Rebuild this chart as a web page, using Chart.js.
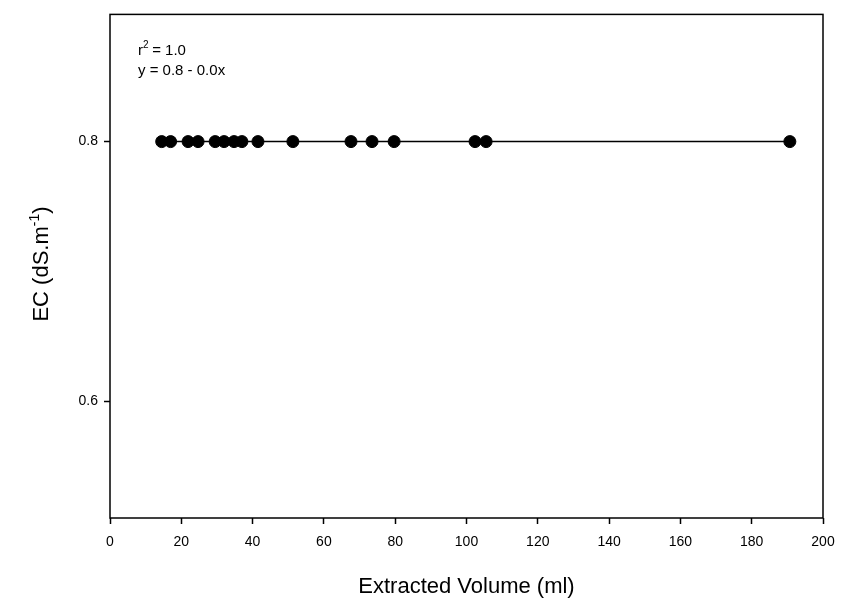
<!DOCTYPE html>
<html>
<head>
<meta charset="utf-8">
<script src="https://cdn.jsdelivr.net/npm/chart.js@4/dist/chart.umd.min.js"></script>
<style>
  body { margin: 0; background: #fff; }
  #wrap { width: 845px; height: 604px; }
</style>
</head>
<body>
<div id="wrap"><canvas id="chart" width="845" height="604"></canvas></div>
<script>
const volumes = [14.5, 17, 21.9, 24.7, 29.5, 32, 34.8, 37, 41.5, 51.3, 67.6, 73.5, 79.7, 102.4, 105.5, 190.7];
const ecValues = [0.8, 0.8, 0.8, 0.8, 0.8, 0.8, 0.8, 0.8, 0.8, 0.8, 0.8, 0.8, 0.8, 0.8, 0.8, 0.8];
const fitLine = [{ x: 14.5, y: 0.8 }, { x: 190.7, y: 0.8 }];
const xTicks = [0, 20, 40, 60, 80, 100, 120, 140, 160, 180, 200];
const yTicks = [0.6, 0.8];

const font = 'Arial, "Liberation Sans", sans-serif';

const frameAndText = {
    id: 'frameAndText',
    afterDraw(chart) {
        const { ctx, chartArea: a } = chart;
        ctx.save();
        ctx.strokeStyle = '#000';
        ctx.lineWidth = 1.5;
        ctx.strokeRect(a.left, a.top, a.right - a.left, a.bottom - a.top);
        ctx.fillStyle = '#000';
        ctx.textBaseline = 'alphabetic';
        ctx.font = `15px ${font}`;
        ctx.fillText('r', 138, 55);
        ctx.font = `10px ${font}`;
        ctx.fillText('2', 143, 48);
        ctx.font = `15px ${font}`;
        ctx.fillText(' = 1.0', 148, 55);
        ctx.fillText('y = 0.8 - 0.0x', 138, 75);
        // y title with superscript
        ctx.translate(48, 264);
        ctx.rotate(-Math.PI / 2);
        ctx.font = `22px ${font}`;
        const main = 'EC (dS.m';
        const wMain = ctx.measureText(main).width;
        ctx.font = `14px ${font}`;
        const wSup = ctx.measureText('-1').width;
        ctx.font = `22px ${font}`;
        const wEnd = ctx.measureText(')').width;
        const total = wMain + wSup + wEnd;
        ctx.textAlign = 'left';
        const x0 = -total / 2;
        ctx.fillText(main, x0, 0);
        ctx.font = `14px ${font}`;
        ctx.fillText('-1', x0 + wMain, -9);
        ctx.font = `22px ${font}`;
        ctx.fillText(')', x0 + wMain + wSup, 0);
        ctx.restore();
    }
};

const tickGrid = { display: true, drawOnChartArea: false, drawTicks: true, tickLength: 6, tickColor: '#000', tickWidth: 1.5 };

new Chart(document.getElementById('chart'), {
    type: 'scatter',
    data: {
        datasets: [
            {
                label: 'fit',
                type: 'line',
                data: fitLine,
                borderColor: '#000',
                borderWidth: 1.5,
                pointRadius: 0
            },
            {
                label: 'EC',
                data: volumes.map((v, i) => ({ x: v, y: ecValues[i] })),
                backgroundColor: '#000',
                borderColor: '#000',
                pointRadius: 6,
                pointHoverRadius: 6
            }
        ]
    },
    plugins: [frameAndText],
    options: {
        responsive: false,
        animation: false,
        layout: { padding: { top: 2, right: 22, left: 0, bottom: 0 } },
        plugins: { legend: { display: false }, tooltip: { enabled: false } },
        scales: {
            x: {
                type: 'linear',
                min: 0,
                max: 200,
                afterBuildTicks: (s) => { s.ticks = xTicks.map((v) => ({ value: v })); },
                afterFit: (s) => { s.height = 86; },
                grid: tickGrid,
                border: { display: false },
                ticks: { color: '#000', font: { family: font, size: 14 }, padding: 10, maxRotation: 0 },
                title: { display: true, text: 'Extracted Volume (ml)', color: '#000', font: { family: font, size: 22 }, padding: { top: 8 } }
            },
            y: {
                type: 'linear',
                min: 0.51,
                max: 0.898,
                afterBuildTicks: (s) => { s.ticks = yTicks.map((v) => ({ value: v })); },
                afterFit: (s) => { s.width = 110; },
                grid: tickGrid,
                border: { display: false },
                ticks: { color: '#000', font: { family: font, size: 14 }, padding: 6, callback: (v) => v.toFixed(1) }
            }
        }
    }
});
</script>
</body>
</html>
